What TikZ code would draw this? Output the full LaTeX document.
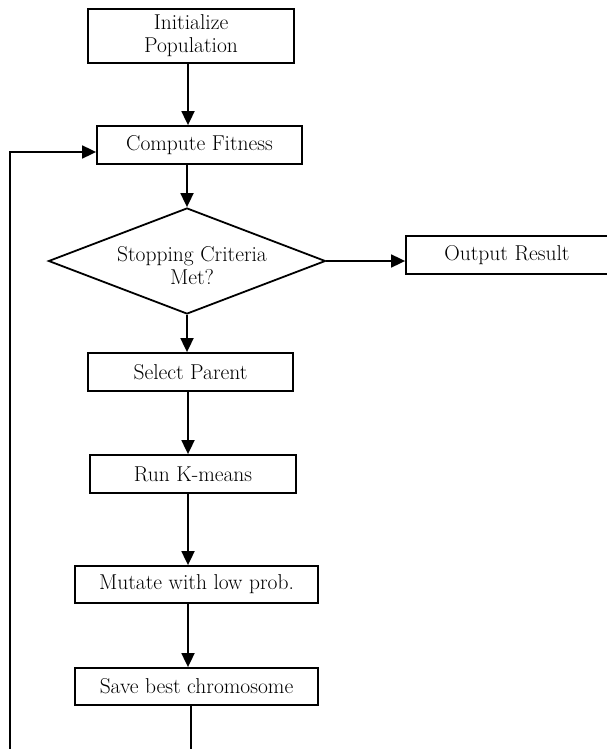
\documentclass[tikz,border=0pt]{standalone}
\usepackage{fontspec}
\usetikzlibrary{shapes.geometric,arrows.meta}
\begin{document}
\begin{tikzpicture}[x=1pt,y=-1pt,
  every node/.style={font=\fontsize{21.5}{23}\selectfont},
  procbox/.style={draw,line width=1.8pt,rectangle,inner sep=0pt,align=center},
  conn/.style={line width=1.8pt},
  arr/.style={conn,-{Triangle[length=14pt,width=13pt]}}]
\useasboundingbox (0,0) rectangle (607,749);
\node[procbox,minimum width=206pt,minimum height=54pt] (init) at (191,36) {Initialize\\Population};
\node[procbox,minimum width=205pt,minimum height=38pt] (fit) at (199.5,145) {Compute Fitness};
\node[draw,line width=1.8pt,diamond,inner sep=0pt,minimum width=277pt,minimum height=106pt] (stop) at (187,261) {};
\node[align=center] (stoptext) at (192,266) {Stopping Criteria\\Met?};
\node[procbox,minimum width=202pt,minimum height=38pt] (out) at (507,255) {Output Result};
\node[procbox,minimum width=205pt,minimum height=38pt] (sel) at (190.5,372) {Select Parent};
\node[procbox,minimum width=206pt,minimum height=38pt] (km) at (193,474) {Run K-means};
\node[procbox,minimum width=243pt,minimum height=37pt] (mut) at (196.5,584.5) {Mutate with low prob.};
\node[procbox,minimum width=243pt,minimum height=37pt] (save) at (196.5,686.5) {Save best chromosome};
\coordinate (ax) at (188,0);
\coordinate (sx) at (191,0);
\coordinate (bot) at (191,749);
\coordinate (lb) at (10,749);
\coordinate (fb) at (10,152);
\draw[arr] (init.south -| ax) -- (fit.north -| ax);
\draw[arr] (fit.south -| stop.north) -- (stop.north);
\draw[arr] (stop.east) -- (stop.east -| out.west);
\draw[arr] (stop.south) -- (sel.north -| stop.south);
\draw[arr] (sel.south -| ax) -- (km.north -| ax);
\draw[arr] (km.south -| ax) -- (mut.north -| ax);
\draw[arr] (mut.south -| ax) -- (save.north -| ax);
\draw[conn] (save.south -| sx) -- (bot);
\draw[arr] (lb) -- (fb) -- (fb -| fit.west);
\end{tikzpicture}
\end{document}
